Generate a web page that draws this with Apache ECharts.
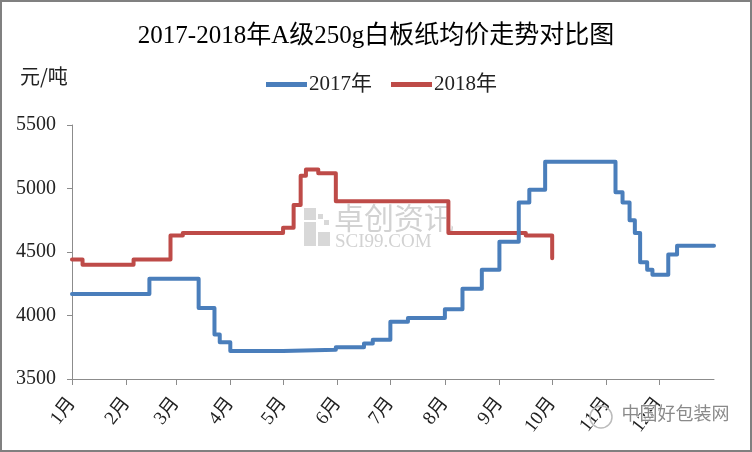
<!DOCTYPE html>
<html>
<head>
<meta charset="utf-8">
<script src="https://cdn.jsdelivr.net/npm/echarts@6/dist/echarts.min.js"></script>
<style>
html,body{margin:0;padding:0;background:#fff;}
#chart{width:752px;height:452px;}
</style>
</head>
<body>
<div id="chart"></div>
<script>
// Month tick positions (day of year) and labels
const monthStarts = [0, 31, 59, 90, 120, 151, 181, 212, 243, 273, 304, 334];
const monthLabels = ['1月','2月','3月','4月','5月','6月','7月','8月','9月','10月','11月','12月'];

// 2017: day of year where each price level begins, and the price (元/吨)
const days2017 = [0, 44, 72, 81, 84, 90, 120, 150, 166, 171, 181, 191, 212, 222, 233, 243, 254, 260, 269, 309, 313, 317, 320, 323, 327, 330, 339, 344, 365];
const vals2017 = [4170, 4290, 4060, 3850, 3790, 3720, 3730, 3750, 3780, 3810, 3950, 3980, 4050, 4210, 4360, 4580, 4890, 4990, 5210, 4970, 4890, 4750, 4650, 4420, 4360, 4320, 4480, 4550, 4550];

// 2018
const days2018 = [0, 6, 35, 56, 63, 120, 126, 130, 133, 140, 150, 214, 258, 273];
const vals2018 = [4440, 4400, 4440, 4630, 4650, 4690, 4870, 5100, 5150, 5120, 4900, 4650, 4630, 4450];

const seriesNames = ['2017年', '2018年'];
const yTicks = { min: 3500, max: 5500, interval: 500 };

const serif = '"Liberation Serif", "Noto Sans CJK SC", serif';

const chart = echarts.init(document.getElementById('chart'), null, { renderer: 'canvas' });

const toPairs = (d, v) => d.map((x, i) => [x, v[i]]);

chart.setOption({
  animation: false,
  backgroundColor: '#fff',
  title: {
    text: '2017-2018年A级250g白板纸均价走势对比图',
    left: 'center',
    top: 19,
    textStyle: { fontFamily: serif, fontSize: 25, fontWeight: 'normal', color: '#000' }
  },
  legend: {
    top: 69,
    left: 261,
    itemWidth: 41,
    itemHeight: 5,
    itemGap: 19,
    icon: 'rect',
    textStyle: { fontFamily: serif, fontSize: 21, color: '#222', padding: [0, 0, 0, -3] },
    data: seriesNames
  },
  grid: { left: 72, right: 38, top: 125, bottom: 73, containLabel: false },
  xAxis: {
    type: 'value',
    min: 0,
    max: 365,
    axisLine: { show: true, lineStyle: { color: '#8c8c8c', width: 1 } },
    axisTick: { show: true, customValues: monthStarts, length: 6, lineStyle: { color: '#8c8c8c' } },
    axisLabel: {
      customValues: monthStarts,
      formatter: v => monthLabels[monthStarts.indexOf(v)],
      rotate: 52,
      margin: 21,
      fontFamily: serif,
      fontSize: 19,
      color: '#222'
    },
    splitLine: { show: false }
  },
  yAxis: {
    type: 'value',
    min: yTicks.min,
    max: yTicks.max,
    interval: yTicks.interval,
    axisLine: { show: true, lineStyle: { color: '#8c8c8c', width: 1 } },
    axisTick: { show: true, length: 5, lineStyle: { color: '#8c8c8c' } },
    axisLabel: { fontFamily: serif, fontSize: 20, color: '#222', margin: 16, formatter: v => String(v) },
    splitLine: { show: false }
  },
  graphic: [
    { type: 'rect', shape: { x: 1, y: 1, width: 750, height: 450 }, style: { fill: 'none', stroke: '#808080', lineWidth: 2 }, z: 100 },
    { type: 'text', left: 20, top: 66, style: { text: '元/吨', font: '20px "Noto Sans CJK SC", sans-serif', fill: '#222' } },
    // watermark (SCI99)
    { type: 'rect', shape: { x: 304, y: 208, width: 12, height: 12 }, style: { fill: '#d8d8d8' }, z: 0 },
    { type: 'rect', shape: { x: 304, y: 222, width: 12, height: 24 }, style: { fill: '#d8d8d8' }, z: 0 },
    { type: 'rect', shape: { x: 318, y: 232, width: 12, height: 14 }, style: { fill: '#d8d8d8' }, z: 0 },
    { type: 'rect', shape: { x: 318, y: 214, width: 5, height: 5 }, style: { fill: '#d8d8d8' }, z: 0 },
    { type: 'rect', shape: { x: 324, y: 220, width: 5, height: 5 }, style: { fill: '#d8d8d8' }, z: 0 },
    { type: 'text', left: 334, top: 203, style: { text: '卓创资讯', font: '30px "Noto Sans CJK SC", sans-serif', fill: '#d2d2d2' }, z: 0 },
    { type: 'text', left: 335, top: 233, style: { text: 'SCI99.COM', font: '19px "Liberation Serif", serif', fill: '#d2d2d2' }, z: 0 },
    // bottom-right share watermark
    { type: 'circle', shape: { cx: 601, cy: 417, r: 11 }, style: { fill: 'none', stroke: '#bbbbbb', lineWidth: 1.5 }, z: 50 },
    { type: 'text', left: 621, top: 404, style: { text: '中国好包装网', font: '18px "Noto Sans CJK SC", sans-serif', fill: '#8a8a8a', stroke: '#ffffff', lineWidth: 1 }, z: 50 }
  ],
  series: [
    {
      name: seriesNames[0],
      type: 'line',
      step: 'end',
      showSymbol: false,
      symbol: 'none',
      data: toPairs(days2017, vals2017),
      lineStyle: { color: '#4a7ebb', width: 4, join: 'round', cap: 'round' },
      itemStyle: { color: '#4a7ebb' },
      z: 3
    },
    {
      name: seriesNames[1],
      type: 'line',
      step: 'end',
      showSymbol: false,
      symbol: 'none',
      data: toPairs(days2018, vals2018),
      lineStyle: { color: '#be4b48', width: 4, join: 'round', cap: 'round' },
      itemStyle: { color: '#be4b48' },
      z: 2
    }
  ]
});
</script>
</body>
</html>
